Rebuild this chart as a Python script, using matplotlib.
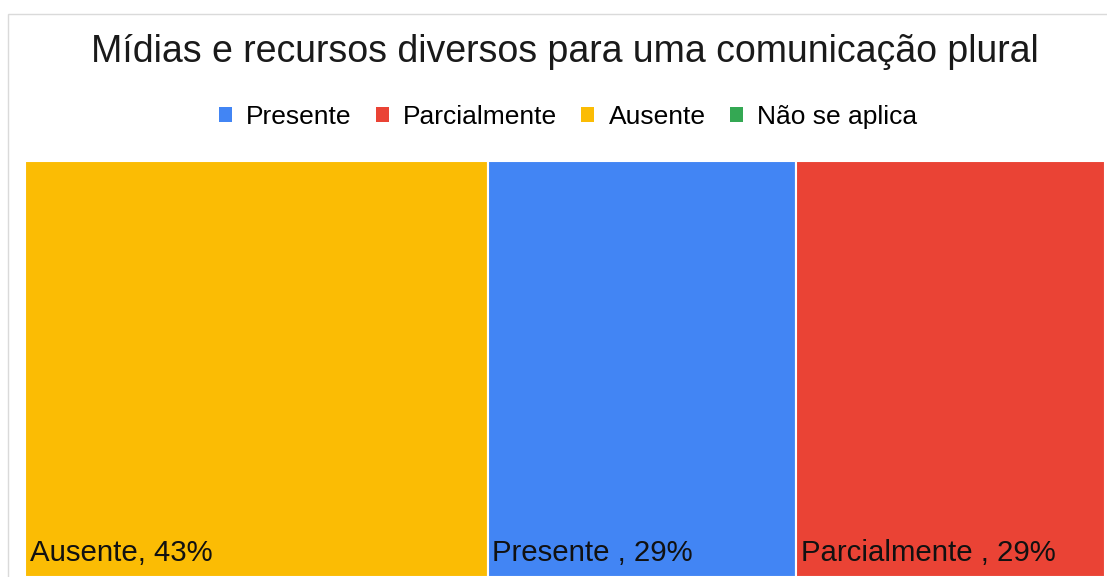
import matplotlib
matplotlib.use("Agg")
import matplotlib.pyplot as plt
from matplotlib.patches import Rectangle, Patch
import numpy as np

plt.rcParams['font.family'] = ['Liberation Sans', 'DejaVu Sans']

title = "Mídias e recursos diversos para uma comunicação plural"
legend_labels = ["Presente", "Parcialmente", "Ausente", "Não se aplica"]
legend_colors = ["#4285F4", "#EA4335", "#FBBC04", "#34A853"]

# treemap order (largest first)
categories = ["Ausente", "Presente ", "Parcialmente "]
values = [3, 2, 2]
percents = ["43%", "29%", "29%"]
colors = ["#FBBC04", "#4285F4", "#EA4335"]

W, H = 1107, 577
fig = plt.figure(figsize=(W/100, H/100), dpi=100)

# outer light border
fig.patches.append(Rectangle((8/W, -0.1), 1.2, (H-14)/H + 0.1, transform=fig.transFigure,
                             fill=False, edgecolor="#DADADA", linewidth=1.0))

ax = fig.add_axes([25/W, 0, 1080/W, 416/H])
lefts = np.concatenate([[0], np.cumsum(values)[:-1]])
ax.bar(lefts, [1]*len(values), width=values, bottom=0, align='edge',
       color=colors, edgecolor="white", linewidth=1.5)
ax.set_xlim(0, sum(values))
ax.set_ylim(0, 1)
ax.axis('off')

for l, c, p in zip(lefts, categories, percents):
    ax.text(l + 0.03, 0.025, f"{c}, {p}", fontsize=21.2, color="#111111",
            ha='left', va='bottom')

fig.text(565/W, 1 - 52/H, title, fontsize=27, ha='center', va='center', color="#1a1a1a")

handles = [Patch(facecolor=c, edgecolor='none') for c in legend_colors]
fig.legend(handles, legend_labels, loc='center', bbox_to_anchor=(568/W, 1 - 117/H),
           ncol=4, frameon=False, fontsize=19, handlelength=0.5, handleheight=0.5,
           handletextpad=0.55, columnspacing=0.9, borderpad=0, borderaxespad=0)

fig.savefig("out.png", dpi=100)
